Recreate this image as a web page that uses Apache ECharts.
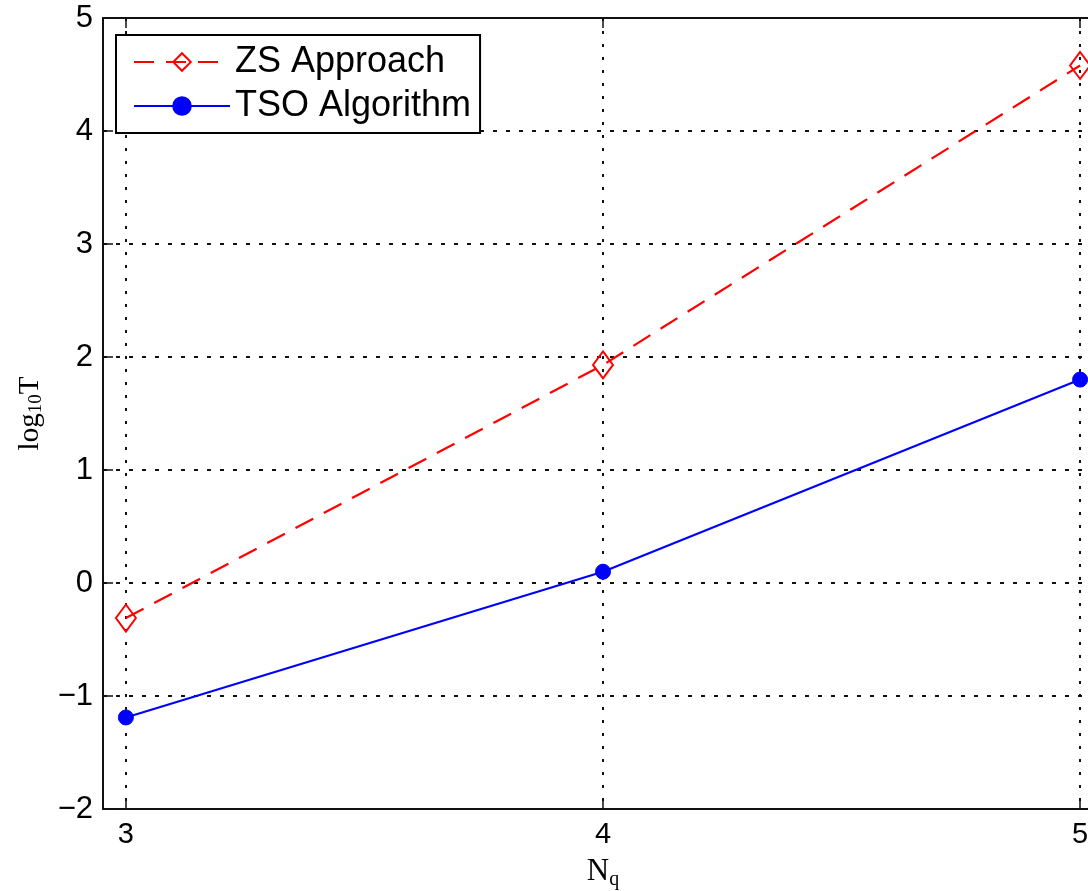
<!DOCTYPE html>
<html>
<head>
<meta charset="utf-8">
<title>log10T vs Nq</title>
<script src="https://cdn.jsdelivr.net/npm/echarts@6/dist/echarts.min.js"></script>
<style>
  html, body { margin: 0; padding: 0; background: #fff; }
  #chart { width: 1088px; height: 891px; }
</style>
</head>
<body>
<div id="chart"></div>
<script>
// Number of qubits on the x axis
const nq = [3, 4, 5];
// log10 of run time for each method
const zsApproach = [-0.31, 1.93, 4.58];
const tsoAlgorithm = [-1.19, 0.10, 1.80];
// Axis ranges
const xRange = [2.952, 5.048];
const yRange = [-2, 5];
const seriesNames = ['ZS Approach', 'TSO Algorithm'];

const pairs = (xs, ys) => xs.map((x, i) => [x, ys[i]]);

const sansFont = 'Liberation Sans, Arial, sans-serif';
const serifFont = 'Liberation Serif, Times New Roman, serif';
const axisColor = '#111';

const xAxisBase = {
  type: 'value',
  min: xRange[0],
  max: xRange[1],
  minInterval: 1,
  maxInterval: 1,
  splitNumber: 2,
  axisLine: { show: true, onZero: false, lineStyle: { color: axisColor, width: 2 } },
  axisTick: { show: true, inside: true, length: 10, lineStyle: { color: axisColor, width: 1.5 } }
};

const chart = echarts.init(document.getElementById('chart'), null, { renderer: 'canvas' });

chart.setOption({
  backgroundColor: '#ffffff',
  animation: false,
  // The plot box runs past the right edge of the canvas
  grid: { left: 103, top: 18, width: 1000, height: 791, containLabel: false, outerBoundsMode: 'none' },
  legend: {
    data: seriesNames,
    orient: 'vertical',
    left: 116,
    top: 35,
    padding: [7, 9, 7, 17],
    itemGap: 4,
    itemWidth: 96,
    itemHeight: 22,
    backgroundColor: '#ffffff',
    borderColor: '#000',
    borderWidth: 2,
    borderRadius: 0,
    textStyle: { fontFamily: sansFont, fontSize: 36, color: '#000', lineHeight: 40, padding: [0, 0, 0, 0] },
    z: 10
  },
  xAxis: [
    Object.assign({}, xAxisBase, {
      position: 'bottom',
      axisLabel: {
        show: true,
        showMinLabel: false,
        showMaxLabel: false,
        margin: 11,
        fontFamily: sansFont,
        fontSize: 29,
        color: '#000'
      },
      splitLine: { show: true, lineStyle: { color: '#111', width: 2, type: [3, 10] } },
      name: '{n|N}{s|q}',
      nameLocation: 'middle',
      nameGap: 46,
      nameTextStyle: {
        rich: {
          n: { fontFamily: serifFont, fontSize: 31, color: '#000', lineHeight: 34 },
          s: { fontFamily: serifFont, fontSize: 20, color: '#000', lineHeight: 34, padding: [16, 0, 0, 0] }
        }
      }
    }),
    Object.assign({}, xAxisBase, {
      position: 'top',
      axisLabel: { show: false },
      splitLine: { show: false }
    })
  ],
  yAxis: {
    type: 'value',
    min: yRange[0],
    max: yRange[1],
    interval: 1,
    axisLine: { show: true, onZero: false, lineStyle: { color: axisColor, width: 2 } },
    axisTick: { show: true, inside: true, length: 10, lineStyle: { color: axisColor, width: 1.5 } },
    axisLabel: {
      margin: 10,
      fontFamily: sansFont,
      fontSize: 31,
      color: '#000',
      formatter: (v) => String(v).replace('-', '\u2212')
    },
    splitLine: { show: true, lineStyle: { color: '#111', width: 2, type: [4, 9] } },
    name: '{a|log}{b|10}{a|T}',
    nameLocation: 'middle',
    nameGap: 58,
    nameTextStyle: {
      rich: {
        a: { fontFamily: serifFont, fontSize: 29, color: '#000', lineHeight: 30 },
        b: { fontFamily: serifFont, fontSize: 19, color: '#000', lineHeight: 30, padding: [12, 0, 0, 0] }
      }
    }
  },
  series: [
    {
      name: seriesNames[0],
      type: 'line',
      xAxisIndex: 0,
      data: pairs(nq, zsApproach),
      symbol: 'diamond',
      symbolSize: [20, 27],
      showAllSymbol: true,
      lineStyle: { color: '#ff0000', width: 2.2, type: [20, 12] },
      itemStyle: { color: 'rgba(255,255,255,0)', borderColor: '#ff0000', borderWidth: 2 },
      z: 3
    },
    {
      name: seriesNames[1],
      type: 'line',
      xAxisIndex: 0,
      data: pairs(nq, tsoAlgorithm),
      symbol: 'circle',
      symbolSize: 15,
      showAllSymbol: true,
      lineStyle: { color: '#0000ff', width: 2.2, type: 'solid' },
      itemStyle: { color: '#0000ff', borderColor: '#0000ff', borderWidth: 1 },
      z: 3
    }
  ]
});
</script>
</body>
</html>
